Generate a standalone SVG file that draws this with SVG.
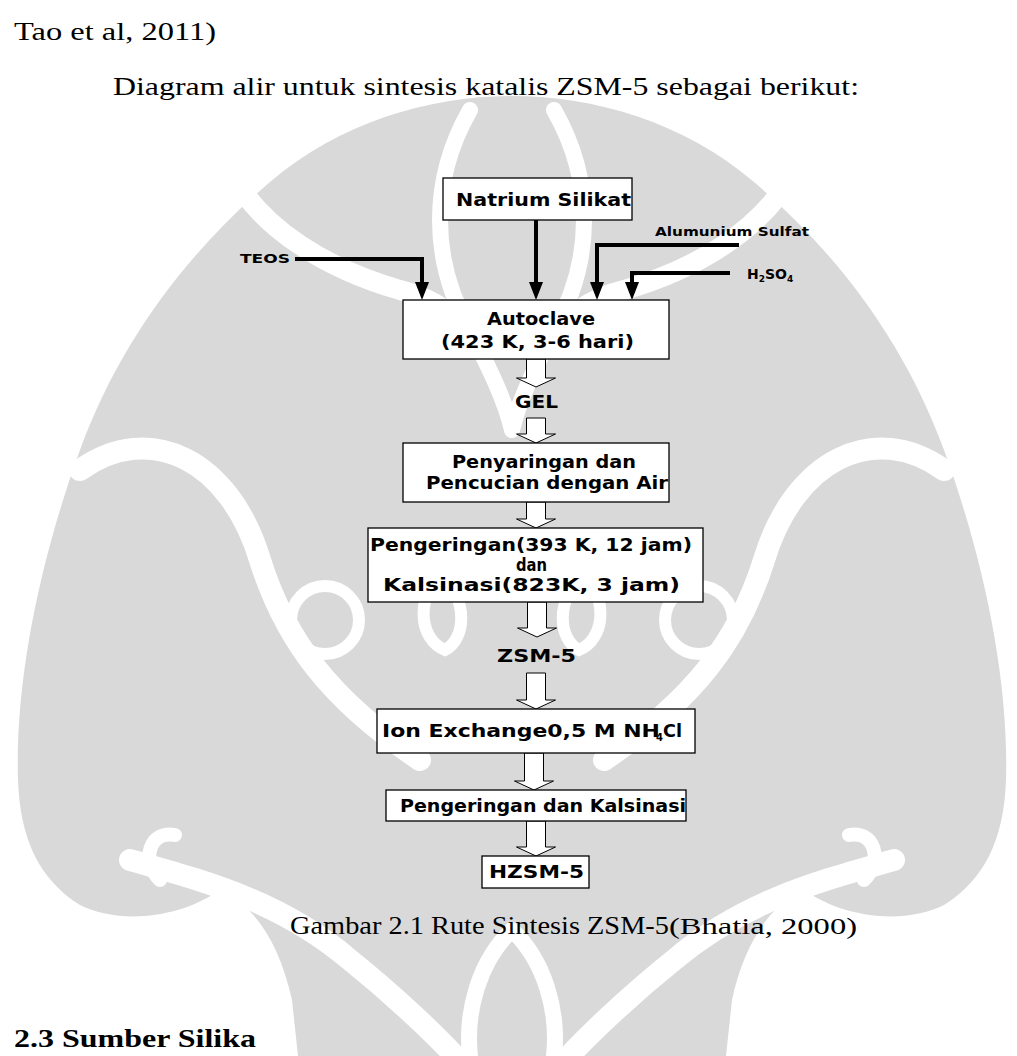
<svg xmlns="http://www.w3.org/2000/svg" width="1017" height="1056" viewBox="0 0 1017 1056">
<style>
.wm{fill:#d9d9d9}
.wb{fill:none;stroke:#ffffff;stroke-linecap:round}
.box{fill:#ffffff;stroke:#000000;stroke-width:1.3}
.lbl{font-family:"DejaVu Sans","Noto Sans",sans-serif;font-weight:bold;fill:#000000}
.body{font-family:"Liberation Serif","Times New Roman",serif;fill:#000000}
.line{fill:none;stroke:#000000;stroke-width:4;stroke-linejoin:miter}
.head{fill:#000000}
.hollow{fill:#ffffff;stroke:#000000;stroke-width:1}
</style>
<defs>
<g id="wmhalf">
<path class="wm" d="M512,96 C430,96 340,122 270,182 C190,250 120,340 80,450 C40,560 15,680 18,780 C20,840 40,880 80,905 C120,925 180,918 220,890 C255,905 280,945 292,1000 L298,1056 L512,1056 Z"/>
<path class="wb" stroke-width="20" d="M230,170 C260,230 330,270 400,290 C440,300 460,320 470,340"/>
<path class="wb" stroke-width="16" d="M470,110 C430,180 430,260 470,330 C490,370 505,400 512,430"/>
<path class="wb" stroke-width="22" d="M80,470 C150,420 230,460 260,560 C285,640 330,700 420,760"/>
<path class="wb" stroke-width="22" d="M130,860 C200,880 280,900 350,960 C400,1000 440,1040 455,1056"/>
<path class="wb" stroke-width="14" d="M160,880 C140,860 150,830 175,835"/>
<circle cx="325" cy="620" r="34" fill="none" stroke="#ffffff" stroke-width="12"/>
<path class="wb" stroke-width="12" d="M440,575 C415,600 420,640 445,650 C465,640 470,600 440,575 Z"/>
<path class="wb" stroke-width="16" d="M512,930 C480,960 465,1010 470,1056"/>
</g>
</defs>
<g id="watermark">
<use href="#wmhalf"/>
<use href="#wmhalf" transform="translate(1024,0) scale(-1,1)"/>
</g>
<g id="body-text">
<text class="body" x="14" y="40" font-size="25" textLength="202" lengthAdjust="spacingAndGlyphs">Tao et al, 2011)</text>
<text class="body" x="113" y="95" font-size="25" textLength="746" lengthAdjust="spacingAndGlyphs">Diagram alir untuk sintesis katalis ZSM-5 sebagai berikut:</text>
<text class="body" x="290" y="934" font-size="26" textLength="379" lengthAdjust="spacingAndGlyphs">Gambar 2.1 Rute Sintesis ZSM-5</text>
<text class="body" x="669" y="934" font-size="23" textLength="188" lengthAdjust="spacingAndGlyphs">(Bhatia, 2000)</text>
<text class="body" x="14" y="1047" font-size="26" font-weight="bold" textLength="242" lengthAdjust="spacingAndGlyphs">2.3 Sumber Silika</text>
</g>
<g id="connectors">
<path class="line" d="M295,259 H422 V283"/>
<polygon class="head" points="415,282 429,282 422,300"/>
<path class="line" d="M536,220 V283"/>
<polygon class="head" points="529,282 543,282 536,300"/>
<path class="line" d="M739,245 H597 V283"/>
<polygon class="head" points="590,282 604,282 597,300"/>
<path class="line" d="M730,273 H632 V283"/>
<polygon class="head" points="625,282 639,282 632,300"/>
<path class="hollow" d="M526.5,359 V378 H516.5 L536,387 L555.5,378 H545.5 V359 Z"/>
<path class="hollow" d="M526.5,418 V434 H516.5 L536,443 L555.5,434 H545.5 V418 Z"/>
<path class="hollow" d="M526.5,502 V519 H516.5 L536,528 L555.5,519 H545.5 V502 Z"/>
<path class="hollow" d="M527.5,602 V628 H517.5 L537,637 L556.5,628 H546.5 V602 Z"/>
<path class="hollow" d="M526.5,673 V700 H516.5 L536,709 L555.5,700 H545.5 V673 Z"/>
<path class="hollow" d="M524.5,753 V781 H514.5 L534,790 L553.5,781 H543.5 V753 Z"/>
<path class="hollow" d="M526.5,821 V847 H516.5 L536,856 L555.5,847 H545.5 V821 Z"/>
</g>
<g id="node-natrium">
<rect class="box" x="443" y="178" width="189" height="42"/>
<text class="lbl" x="456" y="206" font-size="18" textLength="175" lengthAdjust="spacingAndGlyphs">Natrium Silikat</text>
</g>
<g id="node-teos">
<text class="lbl" x="240" y="263" font-size="13" textLength="50" lengthAdjust="spacingAndGlyphs">TEOS</text>
</g>
<g id="node-alumunium">
<text class="lbl" x="655" y="236" font-size="13" textLength="154" lengthAdjust="spacingAndGlyphs">Alumunium Sulfat</text>
</g>
<g id="node-h2so4">
<text class="lbl" x="747" y="279" font-size="14">H<tspan font-size="9" dy="3">2</tspan><tspan dy="-3">SO</tspan><tspan font-size="9" dy="3">4</tspan></text>
</g>
<g id="node-autoclave">
<rect class="box" x="403" y="300" width="266" height="59"/>
<text class="lbl" x="487" y="325" font-size="17" textLength="108" lengthAdjust="spacingAndGlyphs">Autoclave</text>
<text class="lbl" x="441" y="348" font-size="17" textLength="193" lengthAdjust="spacingAndGlyphs">(423 K, 3-6 hari)</text>
</g>
<g id="node-gel">
<text class="lbl" x="515" y="408" font-size="17" textLength="43" lengthAdjust="spacingAndGlyphs">GEL</text>
</g>
<g id="node-penyaringan">
<rect class="box" x="403" y="443" width="266" height="59"/>
<text class="lbl" x="452" y="468" font-size="17" textLength="184" lengthAdjust="spacingAndGlyphs">Penyaringan dan</text>
<text class="lbl" x="426" y="489" font-size="17" textLength="242" lengthAdjust="spacingAndGlyphs">Pencucian dengan Air</text>
</g>
<g id="node-pengeringan">
<rect class="box" x="368" y="528" width="335" height="74"/>
<text class="lbl" x="370" y="551" font-size="17" textLength="322" lengthAdjust="spacingAndGlyphs">Pengeringan(393 K, 12 jam)</text>
<text class="lbl" x="516" y="571" font-size="17" textLength="31" lengthAdjust="spacingAndGlyphs">dan</text>
<text class="lbl" x="383" y="591" font-size="17" textLength="297" lengthAdjust="spacingAndGlyphs">Kalsinasi(823K, 3 jam)</text>
</g>
<g id="node-zsm5">
<text class="lbl" x="497" y="662" font-size="17" textLength="79" lengthAdjust="spacingAndGlyphs">ZSM-5</text>
</g>
<g id="node-ion">
<rect class="box" x="377" y="709" width="318" height="44"/>
<text class="lbl" x="382" y="737" font-size="17" textLength="278" lengthAdjust="spacingAndGlyphs">Ion Exchange0,5 M NH</text>
<text class="lbl" x="656" y="741" font-size="10">4</text>
<text class="lbl" x="663" y="737" font-size="17" textLength="19" lengthAdjust="spacingAndGlyphs">Cl</text>
</g>
<g id="node-kalsinasi">
<rect class="box" x="386" y="790" width="300" height="31"/>
<text class="lbl" x="400" y="812" font-size="17" textLength="286" lengthAdjust="spacingAndGlyphs">Pengeringan dan Kalsinasi</text>
</g>
<g id="node-hzsm5">
<rect class="box" x="482" y="856" width="107" height="32"/>
<text class="lbl" x="489" y="878" font-size="17" textLength="95" lengthAdjust="spacingAndGlyphs">HZSM-5</text>
</g>
</svg>
